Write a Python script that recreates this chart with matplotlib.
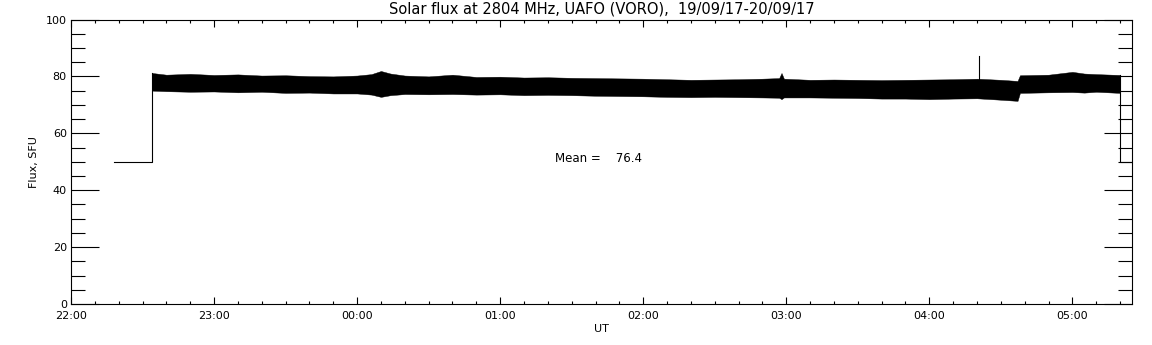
#!/usr/bin/env python3
"""
Solar flux at 2804 MHz, UAFO (VORO) — night of 19/09/17-20/09/17.

Output:
  out.png
"""

from __future__ import annotations

import matplotlib

matplotlib.use("Agg")

import matplotlib.dates as mdates
import matplotlib.pyplot as plt
import pandas as pd

# --- data (UT, SFU) ---

# pre-calibration level before the receiver switched on
PRE_TIMES = ["2017-09-19 22:18", "2017-09-19 22:34"]
PRE_FLUX = [50.0, 50.0]

# envelope of the noisy band (upper / lower edge)
BAND_TIMES = [
    "2017-09-19 22:34", "2017-09-19 22:40", "2017-09-19 22:50", "2017-09-19 23:00",
    "2017-09-19 23:10", "2017-09-19 23:20", "2017-09-19 23:30", "2017-09-19 23:40",
    "2017-09-19 23:50", "2017-09-20 00:00", "2017-09-20 00:06", "2017-09-20 00:10",
    "2017-09-20 00:14", "2017-09-20 00:20", "2017-09-20 00:30", "2017-09-20 00:40",
    "2017-09-20 00:50", "2017-09-20 01:00", "2017-09-20 01:10", "2017-09-20 01:20",
    "2017-09-20 01:30", "2017-09-20 01:40", "2017-09-20 01:50", "2017-09-20 02:00",
    "2017-09-20 02:10", "2017-09-20 02:20", "2017-09-20 02:30", "2017-09-20 02:40",
    "2017-09-20 02:50", "2017-09-20 02:57", "2017-09-20 02:58", "2017-09-20 02:59",
    "2017-09-20 03:10", "2017-09-20 03:20", "2017-09-20 03:30", "2017-09-20 03:40",
    "2017-09-20 03:50", "2017-09-20 04:00", "2017-09-20 04:10", "2017-09-20 04:20",
    "2017-09-20 04:30", "2017-09-20 04:37", "2017-09-20 04:38", "2017-09-20 04:50",
    "2017-09-20 05:00", "2017-09-20 05:05", "2017-09-20 05:10", "2017-09-20 05:20",
]
BAND_UPPER = [
    81.2, 80.6, 80.9, 80.5,
    80.7, 80.3, 80.4, 80.1,
    80.0, 80.3, 80.8, 81.9,
    81.0, 80.3, 80.0, 80.6,
    79.8, 79.9, 79.6, 79.7,
    79.5, 79.4, 79.3, 79.2,
    79.0, 78.8, 78.9, 79.0,
    79.2, 79.4, 81.2, 79.2,
    78.8, 78.9, 78.8, 78.7,
    78.8, 78.9, 79.0, 79.2,
    78.8, 78.4, 80.4, 80.6,
    81.6, 81.0, 80.8, 80.5,
]
BAND_LOWER = [
    75.0, 74.8, 74.6, 74.7,
    74.4, 74.6, 74.2, 74.3,
    74.0, 74.0, 73.6, 72.8,
    73.4, 73.8, 73.7, 73.8,
    73.6, 73.7, 73.4, 73.5,
    73.4, 73.2, 73.1, 73.0,
    72.8, 72.7, 72.8, 72.7,
    72.6, 72.5, 72.0, 72.6,
    72.6, 72.5, 72.4, 72.2,
    72.2, 72.0, 72.2, 72.3,
    71.8, 71.4, 74.2, 74.4,
    74.5, 74.3, 74.6, 74.2,
]

# isolated spike
SPIKE_TIME = "2017-09-20 04:21"
SPIKE_FLUX = 87.1

# post-observation level
POST_TIMES = ["2017-09-20 05:20", "2017-09-20 05:25"]
POST_FLUX = [50.0, 50.0]

MEAN_FLUX = 76.4
X_START = "2017-09-19 22:00"
X_END = "2017-09-20 05:25"


def main() -> None:
    plt.rcParams["font.family"] = ["DejaVu Sans"]
    plt.rcParams["font.size"] = 8

    pre_t = pd.to_datetime(PRE_TIMES)
    band_t = pd.to_datetime(BAND_TIMES)
    post_t = pd.to_datetime(POST_TIMES)
    spike_t = pd.to_datetime(SPIKE_TIME)

    fig = plt.figure(figsize=(11.52, 3.45), dpi=100)
    ax = fig.add_axes([71 / 1152, 1 - 304 / 345, (1132 - 71) / 1152, (304 - 19.5) / 345])

    lw = 0.8
    ax.fill_between(band_t, BAND_LOWER, BAND_UPPER, color="black", linewidth=0.3, edgecolor="black")
    # step from the pre level into the band and back out at the end
    ax.plot(list(pre_t) + [pre_t[-1]], PRE_FLUX + [BAND_UPPER[0]], color="black", lw=lw)
    ax.plot([post_t[0]] + list(post_t), [BAND_UPPER[-1]] + POST_FLUX, color="black", lw=lw)
    ax.plot([spike_t, spike_t], [BAND_UPPER[BAND_TIMES.index("2017-09-20 04:20")], SPIKE_FLUX],
            color="black", lw=lw)

    ax.set_xlim(pd.Timestamp(X_START), pd.Timestamp(X_END))
    ax.set_ylim(0, 100)

    ax.xaxis.set_major_locator(mdates.HourLocator())
    ax.xaxis.set_minor_locator(mdates.MinuteLocator(byminute=range(0, 60, 10)))
    ax.xaxis.set_major_formatter(mdates.DateFormatter("%H:%M"))
    ax.set_yticks(range(0, 101, 20))
    ax.set_yticks(range(0, 101, 5), minor=True)

    ax.tick_params(axis="x", which="major", direction="in", length=5, width=lw, top=True, pad=5)
    ax.tick_params(axis="x", which="minor", direction="in", length=2.5, width=lw, top=True)
    ax.tick_params(axis="y", which="major", direction="in", length=20, width=lw, right=True, pad=3)
    ax.tick_params(axis="y", which="minor", direction="in", length=10, width=lw, right=True)
    for sp in ax.spines.values():
        sp.set_linewidth(lw)

    ax.set_title("Solar flux at 2804 MHz, UAFO (VORO),  19/09/17-20/09/17", fontsize=10.5, pad=4)
    ax.set_ylabel("Flux, SFU", labelpad=5)
    ax.set_xlabel("UT", labelpad=2)

    ax.text(pd.Timestamp("2017-09-20 01:23"), 51.3, f"Mean =    {MEAN_FLUX:.1f}",
            fontsize=8.5, va="center", ha="left")

    fig.savefig("out.png", dpi=100)
    plt.close(fig)


if __name__ == "__main__":
    main()
